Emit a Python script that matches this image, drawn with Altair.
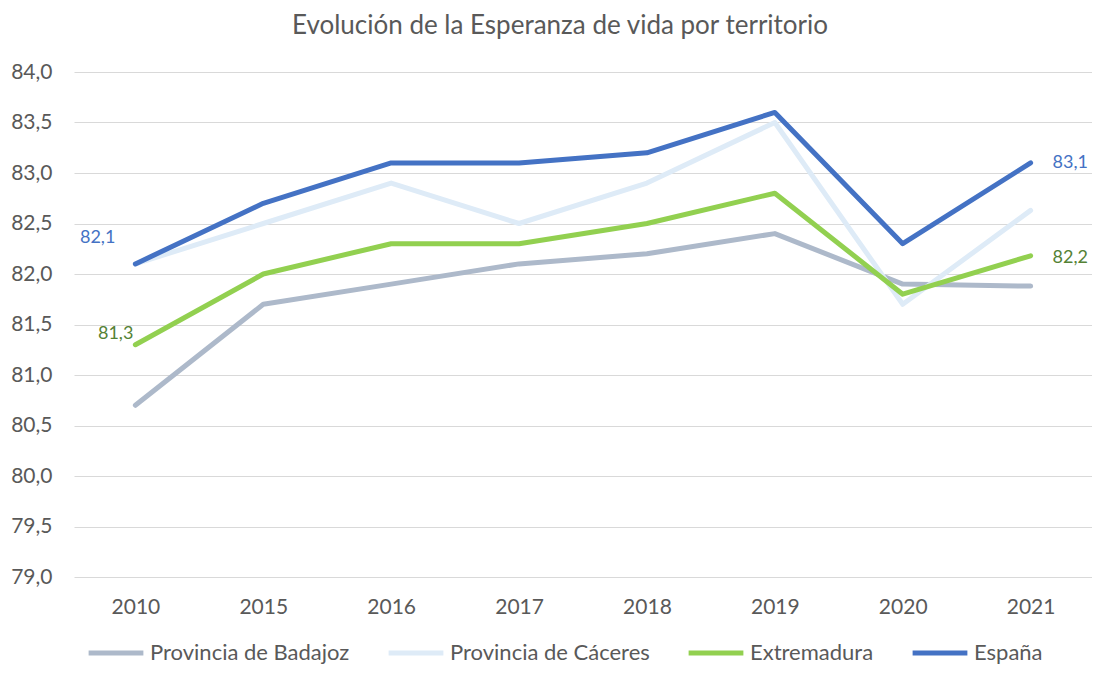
import altair as alt
import pandas as pd

years = ["2010", "2015", "2016", "2017", "2018", "2019", "2020", "2021"]
series = ["Provincia de Badajoz", "Provincia de Cáceres", "Extremadura", "España"]
badajoz = [80.7, 81.7, 81.9, 82.1, 82.2, 82.4, 81.9, 81.88]
caceres = [82.1, 82.5, 82.9, 82.5, 82.9, 83.5, 81.7, 82.63]
extremadura = [81.3, 82.0, 82.3, 82.3, 82.5, 82.8, 81.8, 82.18]
espana = [82.1, 82.7, 83.1, 83.1, 83.2, 83.6, 82.3, 83.1]
colors = ["#ADB9CA", "#DEEBF7", "#92D050", "#4472C4"]
y_ticks = [79.0, 79.5, 80.0, 80.5, 81.0, 81.5, 82.0, 82.5, 83.0, 83.5, 84.0]

rows = []
for name, vals in zip(series, [badajoz, caceres, extremadura, espana]):
    for yr, v in zip(years, vals):
        rows.append({"serie": name, "year": yr, "value": v, "order": series.index(name)})
df = pd.DataFrame(rows)

FONT = "Lato"
GREY = "#595959"

x_enc = alt.X("year:O", sort=years, title=None,
              scale=alt.Scale(type="point", padding=0.48),
              axis=alt.Axis(labelAngle=0, labelFontSize=21, labelColor=GREY, labelFont=FONT,
                            ticks=False, domain=False, labelPadding=19, grid=False))
y_enc = alt.Y("value:Q", title=None,
              scale=alt.Scale(domain=[79, 84], nice=False, zero=False),
              axis=alt.Axis(values=y_ticks, labelFontSize=21, labelColor=GREY, labelFont=FONT,
                            ticks=False, domain=False, labelPadding=22,
                            gridColor="#D9D9D9", gridWidth=1,
                            labelExpr="replace(format(datum.value, '.1f'), '.', ',')"))

lines = alt.Chart(df).mark_line(strokeWidth=5, strokeCap="round", strokeJoin="round").encode(
    x=x_enc, y=y_enc,
    color=alt.Color("serie:N", sort=series,
                    scale=alt.Scale(domain=series, range=colors),
                    legend=alt.Legend(title=None, orient="none", direction="horizontal",
                                      legendX=12, legendY=551, symbolType="stroke",
                                      symbolSize=3000, symbolStrokeWidth=5,
                                      labelFontSize=22, labelColor=GREY, labelFont=FONT,
                                      labelLimit=400,
                                      columnPadding=28, labelOffset=4, padding=0)),
    order=alt.Order("order:Q"),
    detail="serie:N",
)

def label(name, year, color, dx, dy, align):
    sub = df[(df.serie == name) & (df.year == year)]
    return alt.Chart(sub).transform_calculate(
        txt="replace(format(datum.value, '.1f'), '.', ',')"
    ).mark_text(fontSize=18, font=FONT, color=color, dx=dx, dy=dy, align=align,
                baseline="middle").encode(
        x=alt.X("year:O", sort=years), y="value:Q", text="txt:N")

labels = [
    label("España", "2010", "#4472C4", -20, -26, "right"),
    label("Extremadura", "2010", "#548235", -2, -11, "right"),
    label("España", "2021", "#4472C4", 22, 0, "left"),
    label("Extremadura", "2021", "#548235", 22, 2, "left"),
]

chart = alt.layer(lines, *labels).properties(
    width=1018, height=505,
    autosize=alt.AutoSizeParams(type="none"),
    padding={"left": 66, "top": 64, "right": 0, "bottom": 88},
    title=alt.TitleParams("Evolución de la Esperanza de vida por territorio",
                          fontSize=26, font=FONT, color=GREY, fontWeight="normal",
                          anchor="middle", dx=-23, offset=22),
).configure_view(stroke=None)

chart.save("out.html", embed_options={"renderer": "svg", "actions": False})
